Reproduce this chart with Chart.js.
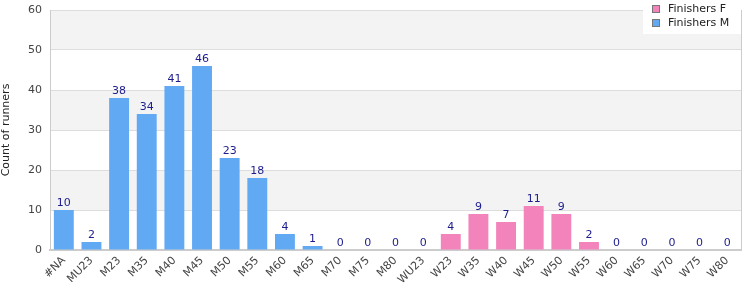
<!DOCTYPE html>
<html>
<head>
<meta charset="utf-8">
<script src="https://cdn.jsdelivr.net/npm/chart.js@4/dist/chart.umd.min.js"></script>
<style>
  html, body { margin: 0; padding: 0; background: #fff; }
  #wrap { width: 750px; height: 300px; position: relative; }
</style>
</head>
<body>
<div id="wrap"><canvas id="runners"></canvas></div>
<script>
var categories = ["#NA", "MU23", "M23", "M35", "M40", "M45", "M50", "M55", "M60", "M65", "M70", "M75", "M80",
    "WU23", "W23", "W35", "W40", "W45", "W50", "W55", "W60", "W65", "W70", "W75", "W80"];
var finishersM = [10, 2, 38, 34, 41, 46, 23, 18, 4, 1, 0, 0, 0, 0, 0, 0, 0, 0, 0, 0, 0, 0, 0, 0, 0];
var finishersF = [0, 0, 0, 0, 0, 0, 0, 0, 0, 0, 0, 0, 0, 0, 4, 9, 7, 11, 9, 2, 0, 0, 0, 0, 0];
var yTicks = [0, 10, 20, 30, 40, 50, 60];

var FONT = "'DejaVu Sans', Verdana, sans-serif";

// alternating bands, right border, value labels, legend
var decorations = {
    id: 'decorations',
    beforeDraw: function (chart) {
        var ctx = chart.ctx, a = chart.chartArea, y = chart.scales.y;
        ctx.save();
        for (var i = 0; i < yTicks.length - 1; i++) {
            if (i % 2 === 1) {
                var top = y.getPixelForValue(yTicks[i + 1]);
                var bot = y.getPixelForValue(yTicks[i]);
                ctx.fillStyle = '#f3f3f3';
                ctx.fillRect(a.left, top, a.right - a.left, bot - top);
            }
        }
        ctx.restore();
    },
    afterDraw: function (chart) {
        var ctx = chart.ctx, a = chart.chartArea;
        ctx.save();
        ctx.strokeStyle = '#cccccc';
        ctx.lineWidth = 1;
        ctx.beginPath();
        ctx.moveTo(Math.round(a.right) + 0.5, a.top);
        ctx.lineTo(Math.round(a.right) + 0.5, a.bottom);
        ctx.stroke();

        // totals above bars
        var x = chart.scales.x, y = chart.scales.y;
        ctx.font = '11px ' + FONT;
        ctx.fillStyle = '#1c1c8e';
        ctx.textAlign = 'center';
        ctx.textBaseline = 'alphabetic';
        categories.forEach(function (c, i) {
            var total = finishersM[i] + finishersF[i];
            ctx.fillText(String(total), x.getPixelForValue(i), y.getPixelForValue(total) - 4);
        });

        // legend box
        var lx = 643, ly = 0, lw = a.right - lx, lh = 34;
        ctx.fillStyle = '#ffffff';
        ctx.fillRect(lx, ly, lw, lh);
        var items = [
            { text: 'Finishers F', color: '#f383bb' },
            { text: 'Finishers M', color: '#62a9f3' }
        ];
        ctx.textAlign = 'left';
        ctx.textBaseline = 'middle';
        items.forEach(function (it, k) {
            var cy = 9 + k * 14;
            ctx.fillStyle = it.color;
            ctx.fillRect(652.5, cy - 3.5, 7, 7);
            ctx.strokeStyle = '#777777';
            ctx.strokeRect(652.5, cy - 3.5, 7, 7);
            ctx.fillStyle = '#222222';
            ctx.fillText(it.text, 668, cy + 0.5);
        });
        ctx.restore();
    }
};

new Chart(document.getElementById('runners'), {
    type: 'bar',
    data: {
        labels: categories,
        datasets: [{
            label: 'Finishers F',
            data: finishersF,
            backgroundColor: '#f383bb',
            barPercentage: 0.9,
            categoryPercentage: 0.8
        }, {
            label: 'Finishers M',
            data: finishersM,
            backgroundColor: '#62a9f3',
            barPercentage: 0.9,
            categoryPercentage: 0.8
        }]
    },
    options: {
        responsive: true,
        maintainAspectRatio: false,
        animation: false,
        layout: { padding: { left: 0, right: 9, top: 10, bottom: 0 } },
        plugins: {
            legend: { display: false },
            tooltip: { enabled: false }
        },
        scales: {
            x: {
                stacked: true,
                grid: { display: false, drawTicks: false },
                border: { display: true, color: '#cccccc', width: 2 },
                ticks: {
                    color: '#444444',
                    font: { family: FONT, size: 11 },
                    minRotation: 45,
                    maxRotation: 45,
                    autoSkip: false,
                    padding: 4
                },
                afterFit: function (s) { s.height = 50; s.paddingLeft = 0; s.paddingRight = 0; }
            },
            y: {
                stacked: true,
                min: 0,
                max: 60,
                afterBuildTicks: function (s) { s.ticks = yTicks.map(function (v) { return { value: v }; }); },
                grid: { color: '#dddddd', drawTicks: false },
                border: { display: true, color: '#cccccc' },
                ticks: {
                    color: '#444444',
                    font: { family: FONT, size: 11 },
                    padding: 8
                },
                title: {
                    display: true,
                    text: 'Count of runners',
                    color: '#222222',
                    font: { family: FONT, size: 11 },
                    padding: 0
                },
                afterFit: function (s) { s.width = 50; s.paddingTop = 0; s.paddingBottom = 0; }
            }
        }
    },
    plugins: [decorations]
});
</script>
</body>
</html>
